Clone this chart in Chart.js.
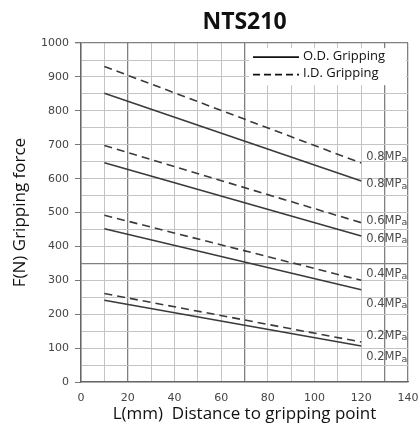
<!DOCTYPE html>
<html>
<head>
<meta charset="utf-8">
<script src="https://cdn.jsdelivr.net/npm/chart.js@4"></script>
<style>
  html, body { margin: 0; padding: 0; background: #fff; }
  #wrap { width: 420px; height: 430px; }
</style>
</head>
<body>
<div id="wrap"><canvas id="gripChart" width="420" height="430"></canvas></div>
<script>
// datos
const distances = [10, 120];
const pressures = ['0.8', '0.6', '0.4', '0.2'];
const odStart = [852, 647, 452, 241];
const odEnd = [593, 431, 272, 106];
const idStart = [931, 698, 492, 261];
const idEnd = [646, 470, 300, 118];
const xTicks = [0, 20, 40, 60, 80, 100, 120, 140];
const yTicks = [0, 100, 200, 300, 400, 500, 600, 700, 800, 900, 1000];

const lineColor = '#3a3a3a';
const datasets = [];
pressures.forEach((p, i) => {
    datasets.push({
        label: 'I.D. Gripping ' + p,
        kind: 'id',
        pressure: p,
        data: [{ x: distances[0], y: idStart[i] }, { x: distances[1], y: idEnd[i] }],
        borderColor: lineColor,
        borderWidth: 1.6,
        borderDash: [8, 5],
        pointRadius: 0
    });
    datasets.push({
        label: 'O.D. Gripping ' + p,
        kind: 'od',
        pressure: p,
        data: [{ x: distances[0], y: odStart[i] }, { x: distances[1], y: odEnd[i] }],
        borderColor: lineColor,
        borderWidth: 1.6,
        pointRadius: 0
    });
});

// etiquetas de presión al final de cada línea (desplazamiento en px)
const pressureLabels = {
    id: 'pressureLabels',
    afterDatasetsDraw(chart) {
        const { ctx, scales: { x, y } } = chart;
        ctx.save();
        ctx.fillStyle = '#4a4a4a';
        ctx.textBaseline = 'middle';
        chart.data.datasets.forEach((ds) => {
            const last = ds.data[ds.data.length - 1];
            const px = x.getPixelForValue(last.x) + 5;
            let py = y.getPixelForValue(last.y);
            if (ds.kind === 'id') py -= (ds.pressure === '0.6' ? 2 : 6);
            else py += (ds.pressure === '0.4' ? 14 : (ds.pressure === '0.2' ? 11 : 3));
            ctx.font = '11.5px "DejaVu Sans"';
            const main = ds.pressure + 'MP';
            ctx.fillText(main, px, py);
            const w = ctx.measureText(main).width;
            ctx.font = '9.5px "DejaVu Sans"';
            ctx.fillText('a', px + w, py + 2);
        });
        ctx.restore();
    }
};

// leyenda dentro del área del gráfico
const insideLegend = {
    id: 'insideLegend',
    afterDatasetsDraw(chart) {
        const { ctx } = chart;
        const area = chart.chartArea;
        const left = area.right - 159, top = area.top + 5;
        ctx.save();
        ctx.fillStyle = '#fff';
        ctx.fillRect(left, top, 157, 37);
        const items = [
            { text: 'O.D. Gripping', dash: [] },
            { text: 'I.D. Gripping', dash: [7, 4] }
        ];
        items.forEach((it, k) => {
            const cy = top + 9 + k * 17.5;
            ctx.strokeStyle = '#111';
            ctx.lineWidth = 1.8;
            ctx.setLineDash(it.dash);
            ctx.beginPath();
            ctx.moveTo(left + 4, cy);
            ctx.lineTo(left + 50, cy);
            ctx.stroke();
            ctx.setLineDash([]);
            ctx.fillStyle = '#111';
            ctx.font = '13px "Open Sans"';
            ctx.textBaseline = 'middle';
            ctx.fillText(it.text, left + 54, cy - 1);
        });
        ctx.restore();
    }
};

const strongX = [20, 70, 130, 140];
const strongY = [350, 1000];

new Chart(document.getElementById('gripChart'), {
    type: 'line',
    data: { datasets },
    plugins: [pressureLabels, insideLegend],
    options: {
        responsive: false,
        animation: false,
        layout: { padding: { left: 0, right: 12, top: 0, bottom: 0 } },
        plugins: {
            legend: { display: false },
            tooltip: { enabled: false },
            title: {
                display: true,
                text: 'NTS210',
                fullSize: false,
                color: '#111',
                font: { family: '"Open Sans"', size: 23, weight: 'bold' },
                padding: { top: 9, bottom: 6.5 }
            }
        },
        scales: {
            x: {
                type: 'linear',
                min: 0,
                max: 140,
                afterFit: (s) => {
                    s.height = 48;
                    s.paddingLeft = 0;
                    s.paddingRight = 0;
                },
                ticks: {
                    stepSize: 10,
                    autoSkip: false,
                    maxRotation: 0,
                    minRotation: 0,
                    padding: 10,
                    color: '#444',
                    font: { family: '"DejaVu Sans"', size: 11 },
                    callback: (v) => xTicks.includes(v) ? String(v) : ''
                },
                grid: {
                    drawTicks: false,
                    color: (c) => strongX.includes(c.tick.value) ? '#808080' : '#c4c4c4',
                    lineWidth: (c) => strongX.includes(c.tick.value) ? 1.3 : 1
                },
                border: { color: '#666', width: 1.3 },
                title: {
                    display: true,
                    text: 'L(mm)  Distance to gripping point',
                    color: '#111',
                    font: { family: '"Open Sans"', size: 17 },
                    padding: { top: 0, bottom: 6 }
                }
            },
            y: {
                min: 0,
                max: 1000,
                afterFit: (s) => {
                    s.width = 81;
                    s.paddingTop = 0;
                    s.paddingBottom = 0;
                },
                ticks: {
                    stepSize: 50,
                    autoSkip: false,
                    padding: 6,
                    color: '#444',
                    font: { family: '"DejaVu Sans"', size: 11 },
                    callback: (v) => yTicks.includes(v) ? String(v) : ''
                },
                grid: {
                    tickLength: 6,
                    tickColor: (c) => yTicks.includes(c.tick.value) ? '#777' : 'rgba(0,0,0,0)',
                    color: (c) => strongY.includes(c.tick.value) ? '#808080' : '#c4c4c4',
                    lineWidth: (c) => strongY.includes(c.tick.value) ? 1.3 : 1
                },
                border: { color: '#666', width: 1.3 },
                title: {
                    display: true,
                    text: 'F(N) Gripping force',
                    color: '#111',
                    font: { family: '"Open Sans"', size: 17 },
                    padding: { top: 10, bottom: 0 }
                }
            }
        }
    }
});
</script>
</body>
</html>
